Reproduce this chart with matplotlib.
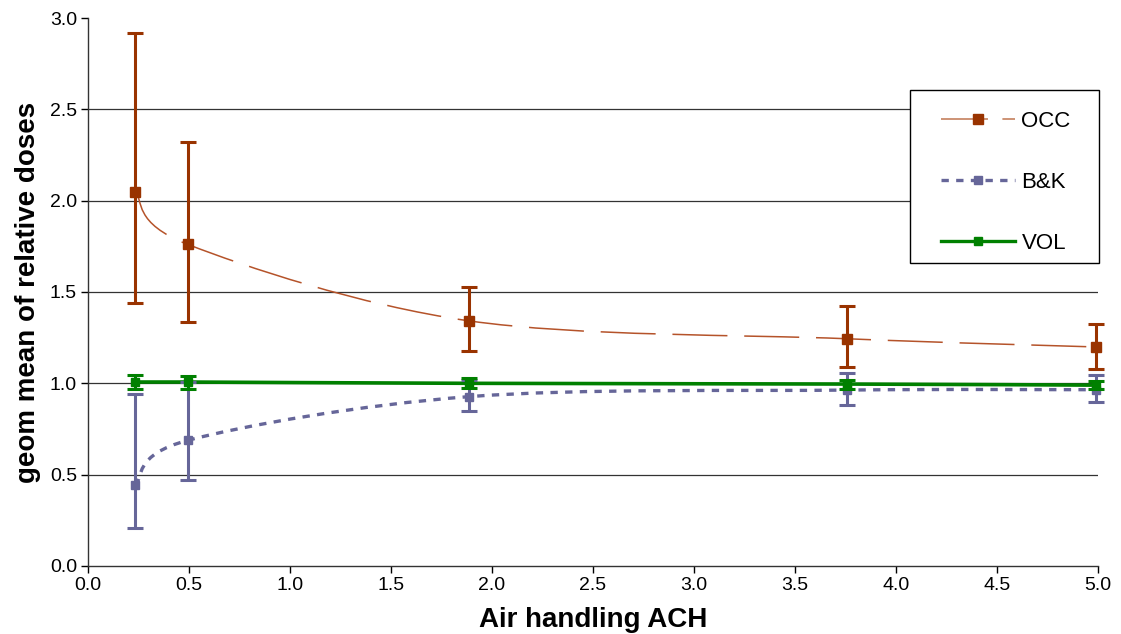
import numpy as np
import matplotlib
matplotlib.use("Agg")
import matplotlib.pyplot as plt
from matplotlib.path import Path
from matplotlib.patches import PathPatch, Rectangle
from matplotlib.lines import Line2D

plt.rcParams["font.family"] = ["Liberation Sans", "DejaVu Sans"]

ach = [0.233, 0.495, 1.886, 3.757, 4.99]

occ = [2.05, 1.76, 1.342, 1.244, 1.199]
occ_lo = [1.44, 1.336, 1.178, 1.089, 1.08]
occ_hi = [2.919, 2.323, 1.529, 1.423, 1.326]

bk = [0.442, 0.688, 0.927, 0.963, 0.965]
bk_lo = [0.206, 0.469, 0.847, 0.879, 0.896]
bk_hi = [0.943, 1.005, 1.02, 1.056, 1.044]

vol = [1.006, 1.007, 1.0, 0.996, 0.99]
vol_lo = [0.969, 0.971, 0.975, 0.97, 0.969]
vol_hi = [1.044, 1.04, 1.03, 1.02, 1.013]

c_occ = "#993300"
c_bk = "#666699"
c_vol = "#008000"


def smooth_path(x, y):
    # Excel-like smoothed line: Catmull-Rom segments as cubic Beziers
    pts = np.column_stack([x, y])
    n = len(pts)
    verts = [pts[0]]
    codes = [Path.MOVETO]
    for i in range(n - 1):
        p0 = pts[i - 1] if i > 0 else pts[i]
        p1 = pts[i]
        p2 = pts[i + 1]
        p3 = pts[i + 2] if i + 2 < n else pts[i + 1]
        c1 = p1 + (p2 - p0) / 6.0
        c2 = p2 - (p3 - p1) / 6.0
        verts += [c1, c2, p2]
        codes += [Path.CURVE4] * 3
    return Path(verts, codes)


fig = plt.figure(figsize=(11.21, 6.34), dpi=100)
ax = fig.add_axes([0.0785, 0.1073, 0.9010, 0.8643])

for t in [0.5, 1.0, 1.5, 2.0, 2.5]:
    ax.axhline(t, color="#333333", lw=0.9, zorder=0)

ax.add_patch(PathPatch(smooth_path(ach, occ), fill=False, edgecolor="#b5532a",
                       lw=1.1, linestyle=(0, (36, 11)), zorder=2))
ax.add_patch(PathPatch(smooth_path(ach, bk), fill=False, edgecolor=c_bk,
                       lw=2.4, linestyle=(0, (2.2, 2.2)), zorder=2))
ax.add_patch(PathPatch(smooth_path(ach, vol), fill=False, edgecolor=c_vol,
                       lw=2.6, zorder=3))


def errs(v, lo, hi):
    v = np.array(v)
    return [v - np.array(lo), np.array(hi) - v]


for vals, lo, hi, col, ms, z in [(bk, bk_lo, bk_hi, c_bk, 5.2, 4),
                                 (vol, vol_lo, vol_hi, c_vol, 5.5, 5),
                                 (occ, occ_lo, occ_hi, c_occ, 7.5, 6)]:
    eb = ax.errorbar(ach, vals, yerr=errs(vals, lo, hi), fmt="s", color=col, ms=ms,
                     elinewidth=2.2, capsize=5.5, capthick=2.2, zorder=z)
    for art in eb.get_children():
        art.set_clip_on(False)

ax.set_xlim(0, 5)
ax.set_ylim(0, 3)
ax.set_xticks(np.arange(0, 5.01, 0.5))
ax.set_yticks(np.arange(0, 3.01, 0.5))
ax.xaxis.set_major_formatter(plt.FormatStrFormatter("%.1f"))
ax.yaxis.set_major_formatter(plt.FormatStrFormatter("%.1f"))
ax.tick_params(direction="out", length=5, width=1, labelsize=14, pad=3)
for s in ["top", "right"]:
    ax.spines[s].set_visible(False)
for s in ["left", "bottom"]:
    ax.spines[s].set_linewidth(1.0)
    ax.spines[s].set_color("#333333")

ax.set_xlabel("Air handling ACH", fontsize=20, fontweight="bold", labelpad=9)
ax.set_ylabel("geom mean of relative doses", fontsize=20, fontweight="bold", labelpad=6)

# legend box (drawn separately so the padding matches the original)
ax.add_patch(Rectangle((0.8139, 0.553), 0.1871, 0.3156, transform=ax.transAxes,
                       facecolor="white", edgecolor="black", lw=1.0,
                       clip_on=False, zorder=7))

handles = [
    Line2D([], [], color="#c98a6a", lw=1.3, linestyle=(0, (26, 8)),
           marker="s", ms=7.5, mfc=c_occ, mec=c_occ),
    Line2D([], [], color=c_bk, lw=2.4, linestyle=(0, (2.2, 2.2)),
           marker="s", ms=5.2, mfc=c_bk, mec=c_bk),
    Line2D([], [], color=c_vol, lw=2.4, marker="s", ms=5.5, mfc=c_vol, mec=c_vol),
]
leg = ax.legend(handles, ["OCC", "B&K", "VOL"], loc="center",
                bbox_to_anchor=(0.909, 0.7005), borderaxespad=0, fontsize=16,
                handlelength=3.3, labelspacing=1.8, borderpad=0,
                handletextpad=0.3, frameon=False)
leg.set_zorder(8)

fig.savefig("out.png", dpi=100)
